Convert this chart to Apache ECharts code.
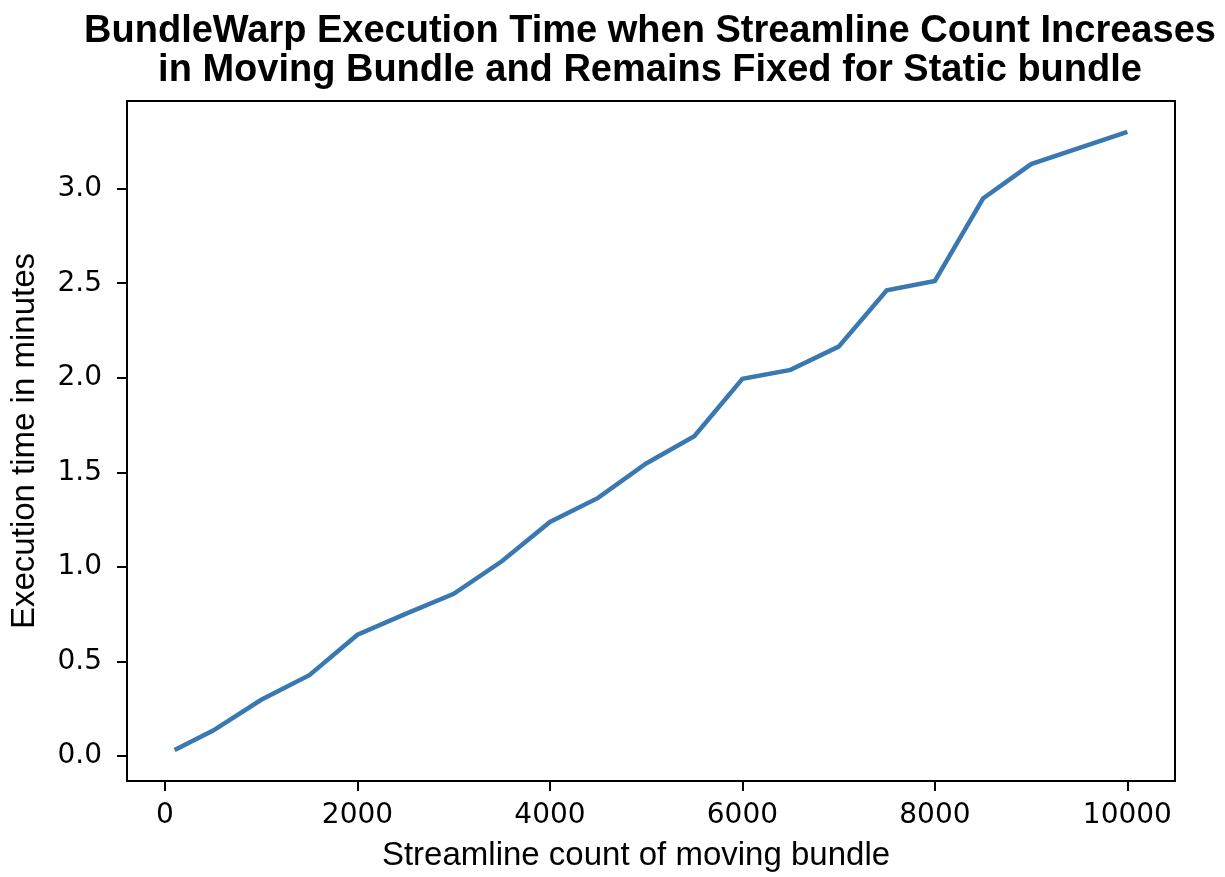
<!DOCTYPE html>
<html>
<head>
<meta charset="utf-8">
<script src="https://cdn.jsdelivr.net/npm/echarts@6/dist/echarts.min.js"></script>
<style>html,body{margin:0;padding:0;background:#fff}#c{width:1225px;height:877px}</style>
</head>
<body>
<div id="c"></div>
<script>
const titleText = 'BundleWarp Execution Time when Streamline Count Increases\nin Moving Bundle and Remains Fixed for Static bundle';
const xLabel = 'Streamline count of moving bundle';
const yLabel = 'Execution time in minutes';
const streamlineCounts = [100, 500, 1000, 1500, 2000, 2500, 3000, 3500, 4000, 4500, 5000, 5500, 6000, 6500, 7000, 7500, 8000, 8500, 9000, 10000];
const execMinutes = [0.032, 0.135, 0.298, 0.428, 0.642, 0.752, 0.858, 1.03, 1.238, 1.365, 1.547, 1.691, 1.995, 2.042, 2.165, 2.463, 2.512, 2.948, 3.13, 3.3];
const xTicks = [0, 2000, 4000, 6000, 8000, 10000];
const yTicks = [0.0, 0.5, 1.0, 1.5, 2.0, 2.5, 3.0];

// matplotlib-style 5% margins
const xSpan = streamlineCounts[streamlineCounts.length-1] - streamlineCounts[0];
const yMinD = Math.min(...execMinutes), yMaxD = Math.max(...execMinutes);
const ySpan = yMaxD - yMinD;

const chart = echarts.init(document.getElementById('c'));
chart.setOption({
  animation: false,
  backgroundColor: '#fff',
  title: {
    text: titleText,
    left: 645, top: 7, textAlign: 'center',
    textStyle: { fontFamily: 'Liberation Sans', fontWeight: 'bold', fontSize: 38, lineHeight: 39, color: '#000' }
  },
  grid: { left: 125, top: 101, width: 1050, height: 683, show: true, borderColor: '#000', borderWidth: 2, backgroundColor: 'transparent' },
  xAxis: {
    type: 'value',
    min: streamlineCounts[0] - 0.05*xSpan,
    max: streamlineCounts[streamlineCounts.length-1] + 0.05*xSpan,
    name: xLabel, nameLocation: 'middle', nameGap: 58,
    nameTextStyle: { fontFamily: 'Liberation Sans', fontSize: 33, color: '#000', padding: [0, 30, 0, 0] },
    splitLine: { show: false },
    axisLine: { show: true, onZero: false, lineStyle: { color: '#000', width: 2 } },
    axisTick: { show: true, customValues: xTicks, length: 10, lineStyle: { color: '#000', width: 2 } },
    axisLabel: { customValues: xTicks, margin: 21, fontFamily: 'DejaVu Sans', fontSize: 28, color: '#000', formatter: v => String(v) }
  },
  yAxis: {
    type: 'value',
    min: yMinD - 0.05*ySpan,
    max: yMaxD + 0.05*ySpan,
    name: yLabel, nameLocation: 'middle', nameGap: 86, nameRotate: 90,
    nameTextStyle: { fontFamily: 'Liberation Sans', fontSize: 33, color: '#000' },
    splitLine: { show: false },
    axisLine: { show: true, onZero: false, lineStyle: { color: '#000', width: 2 } },
    axisTick: { show: true, customValues: yTicks, length: 10, lineStyle: { color: '#000', width: 2 } },
    axisLabel: { customValues: yTicks, margin: 25, fontFamily: 'DejaVu Sans', fontSize: 28, color: '#000', formatter: v => v.toFixed(1) }
  },
  series: [{
    type: 'line',
    data: streamlineCounts.map((x, i) => [x, execMinutes[i]]),
    showSymbol: false,
    symbol: 'none',
    lineStyle: { color: '#3a78b2', width: 4.5, cap: 'butt', join: 'miter' }
  }]
});
</script>
</body>
</html>
